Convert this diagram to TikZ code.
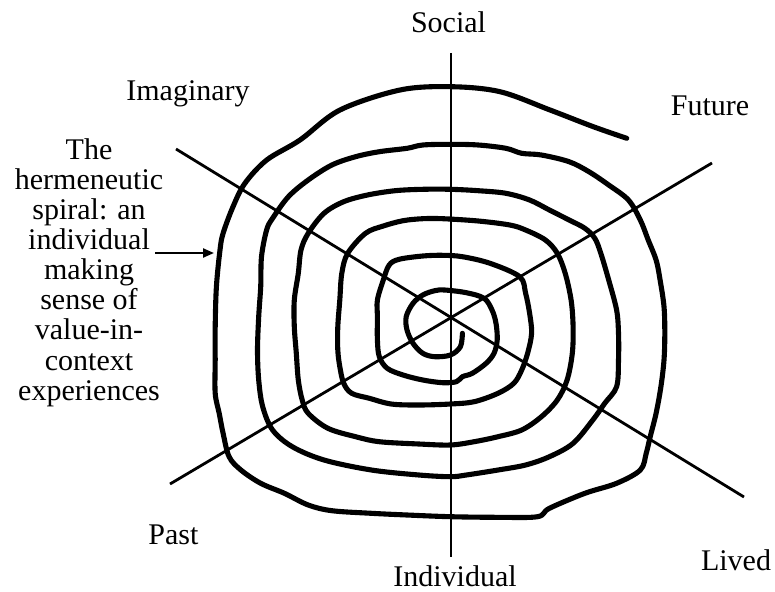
\documentclass[tikz,border=0pt]{standalone}
\usepackage{fontspec}
\setmainfont{Liberation Serif}
\usetikzlibrary{arrows.meta}
\begin{document}
\begin{tikzpicture}[x=1pt,y=-1pt,
  lbl/.style={font=\fontsize{30}{30.1}\selectfont, inner sep=0pt, anchor=base},
  axis/.style={line width=2.8pt},
  spiralline/.style={line width=5.1pt, line cap=round, line join=round}]
\useasboundingbox (0,0) rectangle (775,591);
% axes
\coordinate (vtop) at (451,53);
\coordinate (vbot) at (451,557);
\coordinate (aul) at (176,149);
\coordinate (alr) at (744,497);
\coordinate (bll) at (170,484);
\coordinate (bur) at (712,163);
\draw[axis] (vtop) -- (vbot);
\draw[axis] (aul) -- (alr);
\draw[axis] (bll) -- (bur);
% spiral
\draw[spiralline] plot[smooth, tension=0.55] coordinates {
(462.4,333.3) (460.4,346.7) (450.5,355) (434.7,356.7) (422.8,353.3) (413,343.3)
(407,330) (406.2,316.7) (413,303.3) (422.8,295) (434.7,290.7) (444.6,290)
(466.3,292.7) (484.1,298.3) (492,310) (496,323.3) (497.2,340) (494,353.3)
(486.1,363.3) (472.3,373.3) (462.4,376.7) (456.4,381.7) (442.6,382.7)
(422.8,380) (403,375) (387.2,368.3) (379.3,356.7) (377.4,340) (377.4,316.7)
(377.4,300) (383.3,280) (389.2,265) (399.1,259.3) (422.8,256) (442.6,255.3)
(462.4,256.7) (490,263.3) (519.7,276.7) (525.6,293.3) (529.6,313.3)
(531.6,333.3) (527.6,353.3) (521.7,370) (513.8,383.3) (498,393.3)
(474.2,401.7) (450.5,404) (418.9,405) (391.2,404) (369.4,398.3) (351.7,393.3)
(343.7,383.3) (339.8,366.7) (337.8,350) (337.8,326.7) (339.8,300)
(341.8,273.3) (347.7,253.3) (365.5,233.3) (383.3,226) (403.1,220.7)
(422.8,218.7) (442.6,218.7) (478.2,221) (509.8,225) (525.6,230) (545.4,240)
(557.3,253.3) (565.2,273.3) (571.1,300) (573.1,326.7) (572.3,353.3)
(567.1,380) (557.3,400) (541.4,416.7) (521.7,430) (498,436.7) (474.2,441.7)
(450.5,445) (418.9,444) (379.3,441.7) (355.6,436.7) (327.9,428.3)
(308.2,413.3) (302.2,400) (298.3,380) (296.3,353.3) (294.3,326.7)
(294.3,300) (298.3,273.3) (301,250) (308.2,233.3) (324,213.3) (343.7,201.7)
(367.5,195) (395.1,190.7) (422.8,189.3) (450.5,189.3) (478.2,190.7)
(505.9,193.3) (529.6,200) (549.4,210) (569.1,220) (584.9,228.3)
(594.8,238.3) (600.8,253.3) (608.7,280) (616.6,310) (618.5,333.3)
(618.5,360) (616.6,386.7) (604.7,403.3) (592.8,420) (573.1,443.3)
(549.4,456.7) (525.6,465) (498,470) (466.3,475) (450.5,476.7) (418.9,475)
(371.4,470) (324,460) (292.3,446.7) (272.6,430) (262.7,406.7) (258.7,380)
(257.5,350) (258.7,316.7) (260.7,286.7) (261.5,256.7) (266.6,230)
(272.6,218.3) (288.4,196.7) (308.2,180) (331.9,165) (355.6,156.7)
(379.3,151.7) (407,148.3) (422.8,145) (450.5,144.3) (478.2,145)
(505.9,148.3) (521.7,153.3) (541.4,155) (569.1,161.7) (588.9,171.7)
(608.7,185) (628.4,200) (640.3,220) (648.2,240) (656.1,260) (660.1,280)
(664,306.7) (664.8,333.3) (664,360) (660.9,386.7) (656.1,413.3)
(650.2,436.7) (646.2,453.3) (640.3,470) (616.6,483.3) (584.9,493.3)
(549.4,508.3) (537.5,516.7) (498,517.3) (450.5,516.7) (407,515)
(371.4,513.3) (331.9,510.7) (308.2,505) (284.4,493.3) (260.7,483.3)
(240.9,470) (229.1,456.7) (223.1,433.3) (219.2,413.3) (215.2,393.3)
(215.2,360) (215.2,326.7) (216.4,286.7) (220,250) (223.1,233.3)
(233,206.7) (244.9,183.3) (266.7,160) (300,140) (340,110) (400,90)
(450.7,86.7) (500,91.7) (550,110) (593.3,126.7) (626.7,138.3)};
% labels
\node[lbl] (social) at (448.5,33) {Social};
\node[lbl] (imaginary) at (188,100) {Imaginary};
\node[lbl] (future) at (710,115) {Future};
\node[lbl] (past) at (173.5,544) {Past};
\node[lbl] (lived) at (736,570) {Lived};
\node[lbl] (individual) at (455,586) {Individual};
\node[font=\fontsize{30}{30.1}\selectfont, inner sep=0pt, align=center, anchor=north] (desc) at (89,138.3)
  {The\\hermeneutic\\spiral: an\\individual\\making\\sense of\\value-in-\\context\\experiences};
\coordinate (arrowstart) at (155,253);
\coordinate (arrowend) at (214,253);
\draw[line width=2.2pt, -{Triangle[length=11pt,width=9pt]}] (arrowstart) -- (arrowend);
\end{tikzpicture}
\end{document}
